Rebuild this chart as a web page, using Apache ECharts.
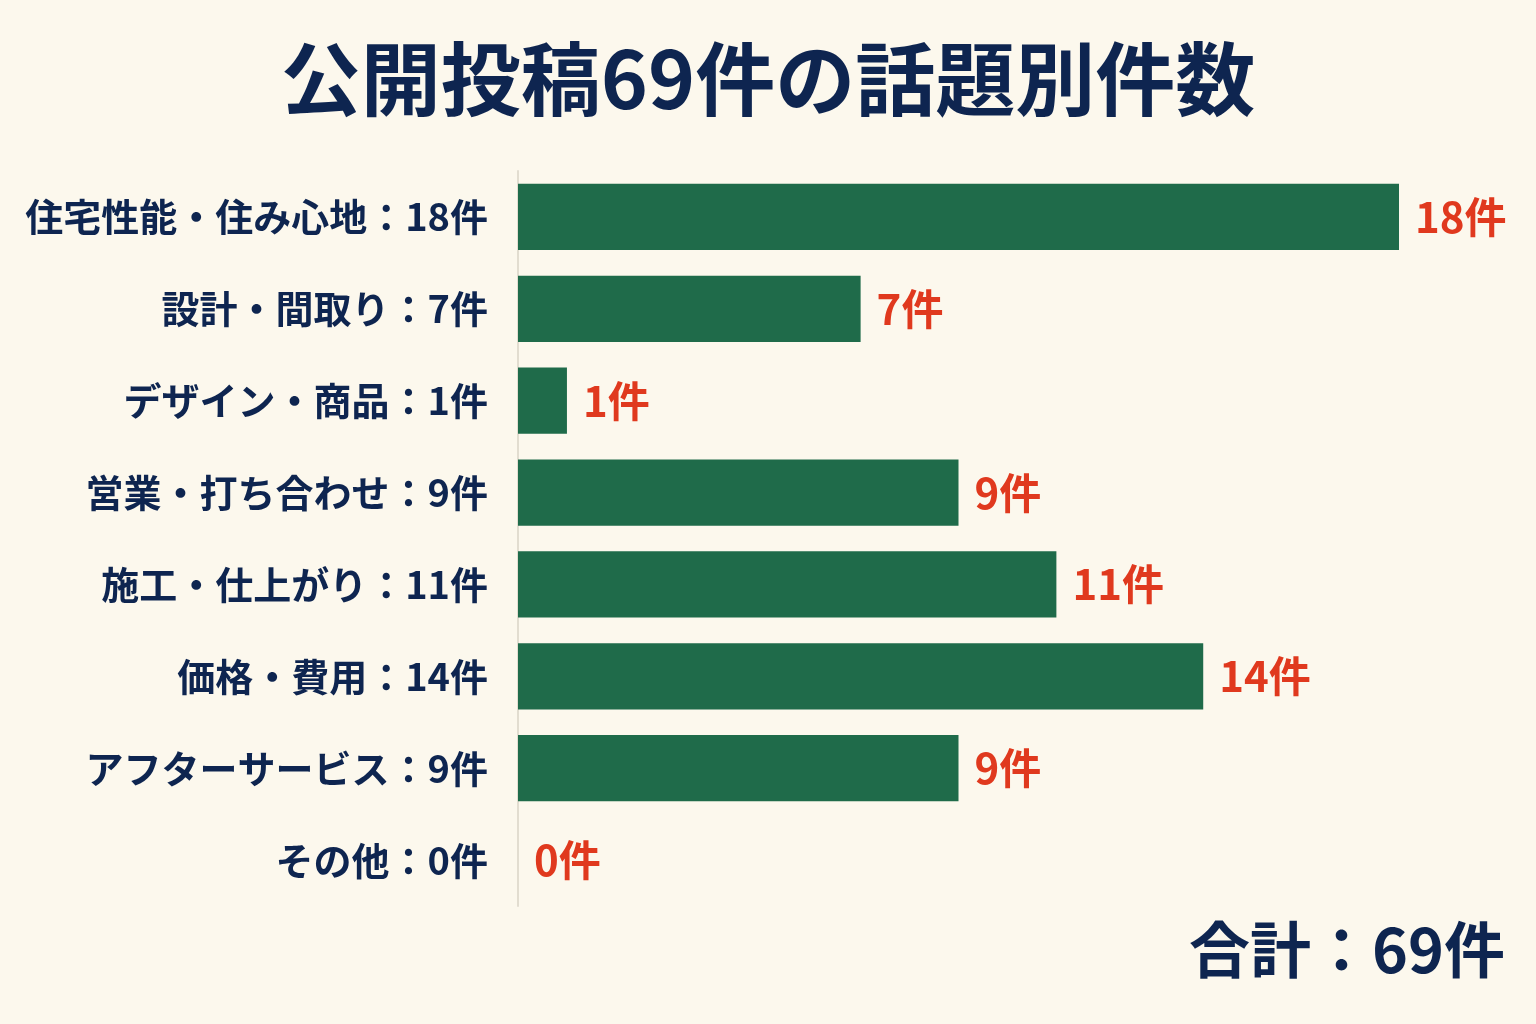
<!DOCTYPE html>
<html>
<head>
<meta charset="utf-8">
<script src="https://cdn.jsdelivr.net/npm/echarts@6/dist/echarts.min.js"></script>
<style>
html, body { margin: 0; padding: 0; background: #fcf8ed; }
#main { width: 1536px; height: 1024px; }
</style>
</head>
<body>
<div id="main"></div>
<script>
var topics = ['住宅性能・住み心地', '設計・間取り', 'デザイン・商品', '営業・打ち合わせ', '施工・仕上がり', '価格・費用', 'アフターサービス', 'その他'];
var counts = [18, 7, 1, 9, 11, 14, 9, 0];
var titleText = '公開投稿69件の話題別件数';
var totalText = '合計：69件';

var font = '"Noto Sans CJK JP", "Noto Sans", sans-serif';
var navy = '#0e2550';

echarts.init(document.getElementById('main')).setOption({
  backgroundColor: '#fcf8ed',
  animation: false,
  title: [{
    text: titleText,
    left: 'center',
    top: 34,
    textStyle: {fontFamily: font, fontSize: 80, fontWeight: 'bold', color: navy}
  }, {
    text: totalText,
    right: 26,
    top: 914,
    textStyle: {fontFamily: font, fontSize: 61, fontWeight: 'bold', color: navy}
  }],
  grid: {left: 518, right: 137, top: 171, bottom: 118, containLabel: false},
  xAxis: {
    type: 'value',
    min: 0,
    max: 18,
    show: false
  },
  yAxis: {
    type: 'category',
    inverse: true,
    data: topics,
    axisLine: {lineStyle: {color: '#e2ddd0', width: 2}},
    axisTick: {show: false},
    axisLabel: {
      margin: 30,
      fontFamily: font,
      fontSize: 38,
      fontWeight: 'bold',
      color: navy,
      formatter: function (v, i) { return v + '：' + counts[i] + '件'; }
    }
  },
  series: [{
    type: 'bar',
    data: counts,
    barCategoryGap: '28%',
    itemStyle: {color: '#1f6b4a'},
    label: {
      show: true,
      position: 'right',
      distance: 16,
      fontFamily: font,
      fontSize: 42,
      fontWeight: 'bold',
      color: '#e0391e',
      formatter: '{c}件'
    }
  }]
});
</script>
</body>
</html>
